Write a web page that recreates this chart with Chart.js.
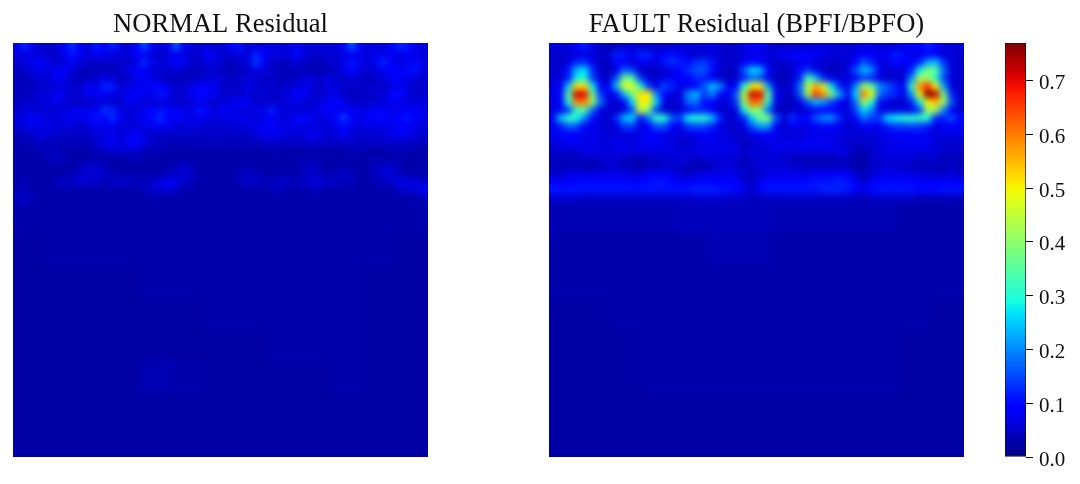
<!DOCTYPE html>
<html>
<head>
<meta charset="utf-8">
<title>Residual heatmaps</title>
<script src="https://cdn.jsdelivr.net/npm/chart.js@4"></script>
<style>
  html, body { margin: 0; padding: 0; background: #fff; }
  #page { position: relative; width: 1080px; height: 484px; overflow: hidden; }
  canvas { position: absolute; top: 0; }
</style>
</head>
<body>
<div id="page">
  <canvas id="normalChart" width="441" height="484" style="left:0"></canvas>
  <canvas id="faultChart" width="441" height="484" style="left:536px"></canvas>
  <canvas id="barChart" width="90" height="484" style="left:990px"></canvas>
</div>
<script>
// residual values, in hundredths
const normalRows = [
  [7,12,8,5,5,6,8,13,7,6, 11,8,12,7,5,9,15,9,6,7, 16,8,6,5,6,5,6,10,11,6, 6,6,7,6,6,8,6,6,6,6, 6,9,16,10,6,7,6,8,12,11, 7,6],
  [6,7,6,6,5,5,8,11,8,6, 10,7,7,6,6,9,8,6,5,6, 8,6,5,6,9,7,5,6,7,6, 12,9,6,7,6,10,7,5,5,6, 6,6,8,7,6,7,7,8,7,9, 7,6],
  [5,6,8,9,7,5,6,8,6,5, 5,5,5,5,5,6,13,7,6,7, 9,8,5,5,7,6,5,4,5,6, 14,8,5,4,4,6,5,4,4,5, 5,7,11,7,6,8,12,8,6,7, 10,6],
  [4,5,6,7,6,8,9,6,4,4, 4,4,4,5,7,9,8,6,5,5, 6,5,4,4,5,5,4,4,4,5, 7,6,5,4,4,4,4,3,3,4, 5,7,10,7,5,6,8,9,9,10, 11,6],
  [4,4,5,6,6,8,7,5,4,4, 5,7,6,4,5,7,8,7,5,4, 4,4,4,5,6,6,5,4,5,6, 5,5,5,4,4,4,6,7,5,7, 5,5,6,5,4,5,6,8,8,7, 6,5],
  [4,4,4,5,5,6,6,5,5,8, 7,12,12,6,6,7,8,8,10,7, 5,5,7,9,8,7,5,5,5,7, 6,5,5,5,5,6,7,6,4,7, 6,5,5,5,5,5,5,6,8,6, 5,5],
  [4,4,5,6,6,8,7,5,6,8, 8,8,7,6,8,9,7,7,11,8, 5,6,8,10,9,7,5,5,5,6, 5,6,5,5,6,9,8,6,5,6, 7,5,4,5,5,5,6,10,10,7, 5,5],
  [4,5,5,6,6,7,6,5,4,5, 5,6,5,5,7,7,6,6,6,6, 5,5,6,7,6,5,6,7,9,8, 5,5,5,5,6,7,6,5,6,8, 10,7,5,5,5,5,6,8,7,6, 6,6],
  [5,6,6,5,6,6,6,7,8,7, 8,13,12,7,6,6,7,9,11,9, 9,7,7,11,8,6,9,7,6,6, 7,7,12,7,6,6,6,6,7,9, 7,8,8,7,7,9,8,7,7,9, 8,6],
  [6,7,10,8,6,6,7,8,7,8, 11,8,13,8,6,7,8,10,13,9, 8,7,7,8,7,6,7,7,7,7, 6,7,9,6,6,8,10,8,6,7, 9,14,8,7,8,10,9,8,9,11, 9,7],
  [5,6,8,6,7,6,6,6,5,6, 8,7,8,6,6,6,7,7,8,7, 6,6,6,6,5,5,5,6,6,6, 7,8,8,7,7,7,7,6,6,6, 7,10,7,6,7,7,7,7,8,8, 7,6],
  [4,4,5,7,6,5,5,5,5,5, 6,6,7,6,7,8,6,5,5,5, 5,5,5,5,5,5,5,5,5,5, 6,7,8,7,6,6,6,8,7,6, 6,8,6,5,5,6,6,7,8,7, 6,5],
  [3,4,4,5,4,4,4,4,4,4, 5,7,9,6,8,10,7,5,4,4, 4,4,4,4,4,4,4,4,4,4, 4,5,5,5,5,5,5,6,5,5, 5,5,5,5,5,5,5,5,5,5, 5,4],
  [3,3,3,4,4,4,3,3,3,3, 4,5,6,6,6,6,4,4,4,3, 3,3,3,3,3,3,3,3,3,3, 3,3,4,3,3,3,3,3,3,3, 3,3,4,4,3,3,3,4,4,4, 3,3],
  [3,3,3,3,4,5,4,3,3,3, 3,3,3,3,3,4,3,3,3,3, 3,3,3,3,3,3,3,3,3,3, 3,3,3,3,3,3,3,3,3,3, 3,3,3,3,3,3,3,3,3,3, 3,3],
  [3,3,3,3,3,3,3,3,4,5, 5,4,3,3,3,3,3,3,3,3, 4,5,4,3,3,3,3,3,3,3, 3,3,3,3,3,3,4,5,4,3, 3,3,3,3,3,4,5,5,4,3, 3,3],
  [3,3,3,3,3,3,3,3,5,6, 6,5,4,3,3,3,3,3,3,4, 5,6,5,3,3,3,3,3,4,5, 4,3,3,3,3,3,4,5,4,3, 4,5,4,3,3,4,6,6,4,3, 3,3],
  [3,4,3,3,3,4,5,5,6,5, 5,4,5,5,5,4,4,5,7,9, 7,5,4,3,3,3,3,3,4,5, 5,4,4,5,5,4,5,6,6,5, 5,4,4,3,3,4,4,5,7,7, 6,5],
  [3,4,3,3,3,3,3,3,3,3, 3,3,3,3,3,3,4,5,6,6, 5,3,3,3,3,3,3,3,3,3, 3,3,4,4,3,3,3,4,4,3, 3,3,3,3,3,3,3,3,5,5, 6,8],
  [4,5,4,3,3,3,3,3,3,3, 3,3,3,3,3,3,3,3,3,3, 3,3,3,3,3,3,3,3,3,3, 3,3,3,3,3,3,3,3,3,3, 3,3,3,3,3,3,3,3,3,3, 3,4]
];

// the calm lower part, read in coarser blocks
const normalFloor = [
  [3,3,3,3,3,3,3,3,3,3,3,3,3],
  [2.5,3,3,3,3,3,3,3,3,3,3,3,2.5],
  [2.5,2.5,2.5,2.5,3,3,3,3,3,3,3,2.5,2.5],
  [2.5,2.5,2.5,2.5,2.5,2.5,3,3,3,3,3,2.5,2.5],
  [2.5,2.5,2.5,2.5,2.5,2.5,2.5,2.5,3,3,3,2.5,2.5],
  [2.5,2.5,2.5,2.5,3.5,3,2.5,2.5,2.5,2.5,3,2.5,2.5],
  [2.5,2.5,2.5,2.5,2.5,2.5,2.5,2.5,2.5,2.5,2.5,2.5,2.5],
  [2.5,2.5,2.5,2.5,2.5,2.5,2.5,2.5,2.5,2.5,2.5,2.5,2.5]
];

const faultRows = [
  [6,6,6,9,12,7,5,4,4,5, 6,5,5,5,5,5,6,6,6,6, 7,6,5,5,7,9,8,6,5,5, 5,5,6,6,6,6,6,5,6,7, 7,6,6,6,7,8,9,12,9,6, 6,6],
  [5,5,6,6,7,6,5,5,12,11, 7,12,12,7,9,11,8,6,5,6, 6,5,5,5,6,7,7,6,7,8, 9,10,9,8,7,6,6,6,7,8, 8,7,8,12,10,7,7,9,8,6, 6,5],
  [5,5,6,12,13,7,5,4,10,8, 6,8,8,6,11,13,12,10,13,14, 11,6,5,5,8,10,9,6,5,5, 6,7,7,6,5,5,5,6,9,16, 12,6,7,10,9,8,12,22,24,13, 6,5],
  [5,6,11,24,27,13,5,4,7,17, 14,5,4,5,5,7,9,13,16,16, 10,5,4,5,16,26,24,10,5,4, 5,10,14,7,5,4,4,6,16,24, 20,8,5,6,6,12,28,38,36,18, 6,5],
  [5,6,12,28,30,14,6,5,16,38, 34,14,6,5,7,8,8,9,12,12, 9,5,4,5,12,18,16,7,4,4, 5,12,34,24,12,7,6,6,10,14, 12,6,5,5,6,20,42,42,30,15, 6,5],
  [6,8,25,52,52,28,10,7,24,48, 48,30,14,7,15,12,7,7,9,16, 24,20,8,10,30,50,50,22,6,4, 6,18,44,56,46,26,12,6,20,42, 36,20,16,12,8,32,58,66,50,22, 6,5],
  [7,9,35,72,70,38,14,7,10,24, 38,52,50,20,10,6,6,20,24,14, 20,10,7,16,44,72,70,36,10,5, 5,16,42,66,58,38,22,10,26,60, 48,18,14,12,7,22,50,82,72,38, 12,5],
  [6,9,30,60,60,42,18,6,5,8, 26,50,50,26,7,5,6,17,18,10, 8,6,6,14,40,62,60,30,7,4, 4,7,16,24,20,14,8,6,18,42, 30,10,6,5,5,12,28,50,55,42, 16,5],
  [6,8,14,32,35,18,7,5,5,6, 16,46,38,14,5,5,6,10,12,12, 8,5,5,7,28,42,38,18,5,4, 5,5,6,8,9,9,7,6,15,26, 20,7,6,7,7,7,14,42,42,20, 8,5],
  [7,24,32,30,20,10,6,5,12,24, 26,10,18,32,30,16,14,28,30,30, 24,12,5,6,12,26,38,38,16,6, 13,10,10,16,20,20,12,6,8,18, 14,14,26,28,30,30,32,30,12,12, 15,10],
  [7,12,17,16,10,7,6,5,7,14, 14,6,9,16,16,9,7,14,15,15, 12,7,5,5,7,16,22,22,9,5, 8,7,7,8,10,10,7,5,6,9, 8,7,12,14,14,15,14,12,7,7, 9,7],
  [7,8,8,8,7,7,7,6,6,6, 7,7,8,8,7,7,6,7,8,8, 8,7,6,5,5,7,8,8,7,6, 6,6,6,7,7,7,7,6,6,6, 6,7,7,8,8,8,8,7,6,7, 7,7],
  [6,7,8,8,7,7,6,6,7,7, 6,7,8,8,7,6,5,5,6,7, 7,7,7,6,4,5,6,7,7,7, 7,7,8,8,8,7,6,5,5,5, 5,6,7,7,8,8,8,8,6,5, 5,5],
  [5,6,6,6,7,7,7,6,7,7, 7,7,7,7,7,7,6,6,7,7, 7,7,7,7,5,6,6,6,7,7, 7,7,7,7,7,7,7,6,4,4, 5,6,7,7,7,7,7,7,6,5, 5,5],
  [4,4,4,4,5,5,5,6,6,5, 4,4,5,5,5,6,6,6,5,6, 6,6,6,5,4,5,6,6,6,5, 4,4,4,4,4,4,5,5,3,3, 5,6,6,6,6,6,5,5,5,4, 4,4],
  [4,4,4,4,3,3,4,5,5,4, 4,3,4,4,5,5,5,4,3,3, 4,6,6,6,4,5,6,6,6,6, 5,5,4,4,4,4,4,4,3,3, 5,5,6,5,5,4,4,4,4,4, 4,4],
  [5,5,6,7,7,7,7,7,7,7, 6,6,8,8,8,7,5,4,6,7, 7,7,7,6,5,4,5,7,7,7, 7,7,7,8,8,8,9,8,5,4, 5,7,7,7,7,7,6,6,5,5, 6,5],
  [8,8,9,9,10,10,10,10,10,10, 9,9,10,11,11,9,8,8,9,9, 9,9,9,8,6,4,8,10,10,10, 10,10,10,11,11,11,12,11,8,5, 8,9,10,10,10,9,9,8,8,9, 8,8],
  [11,11,11,11,11,11,11,11,11,11, 11,11,11,11,11,11,11,11,12,12, 12,11,11,9,7,5,9,11,11,11, 11,11,11,11,12,12,12,11,9,7, 10,11,11,11,11,11,10,10,10,11, 11,11],
  [6,6,6,6,5,5,5,5,5,5, 5,5,5,5,5,5,5,5,6,6, 6,6,5,5,5,4,4,5,5,5, 5,5,5,5,5,5,5,5,4,4, 5,5,5,5,5,5,4,4,4,4, 4,4]
];

const faultFloor = [
  [3.5,3.5,3.5,3.5,4,4,4,3.5,3.5,3.5,3.5,3,3],
  [3,3,3,3,3,3.5,3.5,3,3,3,3,3,3],
  [3,3,3,3,3,3,3,3,3,3,3,3,3],
  [2.5,2.5,3,3,3,3,3,3,3,3,3,3,2.5],
  [2.5,2.5,2.5,3,3,3,3,3,3,3,3,2.5,2.5],
  [2.5,2.5,2.5,3,3,3,3,3,3,3,3,2.5,2.5],
  [2.5,2.5,2.5,2.5,2.5,2.5,2.5,2.5,2.5,2.5,2.5,2.5,2.5],
  [2.5,2.5,2.5,2.5,2.5,2.5,2.5,2.5,2.5,2.5,2.5,2.5,2.5]
];

const barTicks = [0, 0.1, 0.2, 0.3, 0.4, 0.5, 0.6, 0.7];
const maxValue = 0.77;

const gridCols = 52;
const blockCells = 4;

// jet colormap, same knots as matplotlib
const jetRed = [[0, 0], [0.35, 0], [0.66, 1], [0.89, 1], [1, 0.5]];
const jetGreen = [[0, 0], [0.125, 0], [0.375, 1], [0.64, 1], [0.91, 0], [1, 0]];
const jetBlue = [[0, 0.5], [0.11, 1], [0.34, 1], [0.65, 0], [1, 0]];

function knot(list, t) {
  for (let i = 1; i < list.length; i++) {
    if (t <= list[i][0]) {
      const a = list[i - 1], b = list[i];
      return a[1] + (b[1] - a[1]) * (t - a[0]) / (b[0] - a[0]);
    }
  }
  return list[list.length - 1][1];
}

function jet(t) {
  t = Math.min(1, Math.max(0, t));
  const r = Math.round(knot(jetRed, t) * 255);
  const g = Math.round(knot(jetGreen, t) * 255);
  const b = Math.round(knot(jetBlue, t) * 255);
  return `rgb(${r},${g},${b})`;
}

// turn the rows into square points for the scatter chart
function buildCells(rows, floor) {
  const cells = [];
  rows.forEach((row, r) => {
    row.forEach((v, c) => {
      cells.push({ x: c + 0.5, y: r + 0.5, v: v / 100 });
    });
  });
  // one floor block covers a few grid cells each way
  floor.forEach((row, r) => {
    row.forEach((v, c) => {
      for (let i = 0; i < blockCells; i++) {
        for (let j = 0; j < blockCells; j++) {
          cells.push({
            x: c * blockCells + i + 0.5,
            y: rows.length + r * blockCells + j + 0.5,
            v: v / 100
          });
        }
      }
    });
  });
  return cells;
}

// soften the blocks so they look like the interpolated image
const softenPlugin = {
  id: 'soften',
  afterDatasetsDraw(chart) {
    const { ctx, canvas, chartArea: a } = chart;
    ctx.save();
    ctx.beginPath();
    ctx.rect(a.left, a.top, a.width, a.height);
    ctx.clip();
    ctx.filter = 'blur(3px)';
    ctx.drawImage(canvas, a.left, a.top, a.width, a.height, a.left, a.top, a.width, a.height);
    ctx.restore();
  }
};

function heatmap(id, titleText, rows, floor) {
  return new Chart(document.getElementById(id), {
    type: 'scatter',
    data: {
      datasets: [{
        data: buildCells(rows, floor),
        clip: 0,
        pointStyle: 'rect',
        pointBorderWidth: 0,
        pointBackgroundColor: ctx => jet(ctx.raw.v / maxValue),
        pointRadius: ctx => {
          // the chart area may not exist yet on the first pass
          const area = ctx.chart.chartArea;
          const cell = (area ? area.width : ctx.chart.width) / gridCols;
          return (cell + 1) * Math.SQRT1_2;
        }
      }]
    },
    plugins: [softenPlugin],
    options: {
      responsive: false,
      animation: false,
      events: [],
      layout: { autoPadding: false, padding: { left: 13, right: 13, top: 0, bottom: 27 } },
      plugins: {
        legend: { display: false },
        tooltip: { enabled: false },
        title: {
          display: true,
          text: titleText,
          color: '#111',
          font: { family: '"Liberation Serif"', size: 26.6, weight: 'normal', lineHeight: 1.2 },
          padding: { top: 9, bottom: 2 }
        }
      },
      scales: {
        x: { type: 'linear', min: 0, max: gridCols, display: false },
        y: { type: 'linear', min: 0, max: gridCols, reverse: true, display: false }
      }
    }
  });
}

heatmap('normalChart', 'NORMAL Residual', normalRows, normalFloor);
heatmap('faultChart', 'FAULT Residual (BPFI/BPFO)', faultRows, faultFloor);

// tick labels sit a little below the tick in the reference
const barLabels = {
  id: 'barLabels',
  afterDraw(chart) {
    const { ctx, scales: { y } } = chart;
    ctx.save();
    ctx.fillStyle = '#111';
    ctx.font = '21px "Liberation Serif"';
    ctx.textBaseline = 'middle';
    barTicks.forEach(v => ctx.fillText(v.toFixed(1), chart.chartArea.right + 13, y.getPixelForValue(v) + 3));
    ctx.restore();
  }
};

// colorbar: one floating bar with the jet ramp
new Chart(document.getElementById('barChart'), {
  type: 'bar',
  data: {
    labels: [''],
    datasets: [{
      data: [[0, maxValue]],
      barPercentage: 1,
      categoryPercentage: 1,
      borderWidth: 1,
      borderColor: '#111',
      borderSkipped: false,
      backgroundColor: ctx => {
        const { chartArea: a, ctx: c } = ctx.chart;
        if (!a) return '#000';
        const grad = c.createLinearGradient(0, a.bottom, 0, a.top);
        for (let i = 0; i <= 40; i++) grad.addColorStop(i / 40, jet(i / 40));
        return grad;
      }
    }]
  },
  plugins: [barLabels],
  options: {
    responsive: false,
    animation: false,
    events: [],
    layout: { padding: { left: 15, right: 0, top: 43, bottom: 27 } },
    plugins: { legend: { display: false }, tooltip: { enabled: false } },
    scales: {
      x: { display: false },
      y: {
        position: 'right',
        min: 0,
        max: maxValue,
        afterBuildTicks: scale => { scale.ticks = barTicks.map(value => ({ value })); },
        afterFit: scale => { scale.width = 54; },
        border: { display: false },
        grid: { drawOnChartArea: false, drawTicks: true, tickLength: 7, tickColor: '#111', tickWidth: 1 },
        ticks: { display: false }
      }
    }
  }
});
</script>
</body>
</html>
